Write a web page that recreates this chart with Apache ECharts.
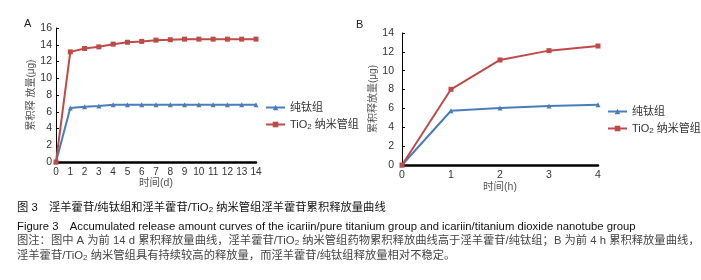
<!DOCTYPE html>
<html>
<head>
<meta charset="utf-8">
<script src="https://cdn.jsdelivr.net/npm/echarts@6/dist/echarts.min.js"></script>
<style>
  html, body { margin: 0; padding: 0; background: #fff; }
  #chart { width: 701px; height: 280px; }
</style>
</head>
<body>
<div id="chart"></div>
<script>
// panel A: 14 days
const daysA = ["0", "1", "2", "3", "4", "5", "6", "7", "8", "9", "10", "11", "12", "13", "14"];
const pureTiA = [0, 6.45, 6.6, 6.68, 6.84, 6.85, 6.85, 6.85, 6.85, 6.85, 6.85, 6.85, 6.85, 6.85, 6.85];
const tubeA = [0, 13.15, 13.55, 13.75, 14.07, 14.3, 14.4, 14.55, 14.6, 14.67, 14.67, 14.67, 14.67, 14.67, 14.67];

// panel B: 4 hours
const hoursB = ["0", "1", "2", "3", "4"];
const pureTiB = [0, 5.75, 6.05, 6.27, 6.38];
const tubeB = [0, 8.03, 11.14, 12.13, 12.62];

const nameTi = "纯钛组";
const nameTube = "TiO2纳米管组";

const BLUE = "#4a7ebb";
const RED = "#be4b48";
const FONT = "Liberation Sans, Arial, Noto Sans CJK SC, sans-serif";

const myChart = echarts.init(document.getElementById("chart"));

const xAxisBase = (gridIndex, data, name, gap, size) => ({
  type: "category",
  gridIndex,
  data,
  boundaryGap: false,
  name,
  nameLocation: "middle",
  nameGap: gap,
  nameTextStyle: { fontSize: 10.5, color: "#555", fontFamily: FONT },
  axisLine: { lineStyle: { color: "#000", width: 2.5 } },
  axisTick: { show: false },
  axisLabel: { fontSize: size, color: "#333", margin: 5, fontFamily: FONT, interval: 0 },
  splitLine: { show: false }
});

const yAxisBase = (gridIndex, max, name, gap, margin) => ({
  type: "value",
  gridIndex,
  min: 0,
  max,
  interval: 2,
  name,
  nameLocation: "middle",
  nameGap: gap,
  nameTextStyle: { fontSize: 10, color: "#555", fontFamily: FONT },
  axisLine: { show: true, lineStyle: { color: "#000", width: 1 } },
  axisTick: { show: true, inside: true, length: 3, lineStyle: { color: "#000" } },
  axisLabel: { fontSize: 10.5, color: "#333", margin, fontFamily: FONT },
  splitLine: { show: false }
});

const lineSeries = (name, data, idx, color, symbol) => ({
  name,
  type: "line",
  xAxisIndex: idx,
  yAxisIndex: idx,
  data,
  symbol,
  symbolSize: 5,
  lineStyle: { color, width: 2 },
  itemStyle: { color },
  animation: false
});

const legendRich = {
  a: { fontSize: 11, color: "#333", fontFamily: FONT },
  s: { fontSize: 8, color: "#333", fontFamily: FONT, padding: [5, 0, 0, 0] }
};
const legendFmt = (n) => (n === nameTube ? "{a|TiO}{s|2}{a| 纳米管组}" : "{a|" + n + "}");

const capRich = {
  a: { fontSize: 11.3, fontFamily: FONT },
  s: { fontSize: 8, fontFamily: FONT, padding: [5, 0, 0, 0] }
};

const option = {
  animation: false,
  grid: [
    { left: 56, top: 28, width: 200, height: 134 },
    { left: 402, top: 33, width: 196, height: 132 }
  ],
  xAxis: [xAxisBase(0, daysA, "时间(d)", 16, 10), xAxisBase(1, hoursB, "时间(h)", 17, 10.5)],
  yAxis: [yAxisBase(0, 16, "累积释 放量(μg)", 14, 4), yAxisBase(1, 14, "累积释放量(μg)", 18, 8)],
  legend: [
    {
      orient: "vertical", left: 265, top: 102, padding: 0, itemWidth: 19, itemHeight: 7, itemGap: 6,
      data: [nameTi, nameTube], formatter: legendFmt, textStyle: { rich: legendRich }
    },
    {
      orient: "vertical", left: 607, top: 106, padding: 0, itemWidth: 19, itemHeight: 7, itemGap: 6,
      data: [nameTi, nameTube], formatter: legendFmt, textStyle: { rich: legendRich }
    }
  ],
  series: [
    lineSeries(nameTi, pureTiA, 0, BLUE, "triangle"),
    lineSeries(nameTube, tubeA, 0, RED, "rect"),
    lineSeries(nameTi, pureTiB, 1, BLUE, "triangle"),
    lineSeries(nameTube, tubeB, 1, RED, "rect")
  ],
  graphic: [
    { type: "text", left: 24, top: 18, style: { text: "A", fontSize: 11, fill: "#222", fontFamily: FONT } },
    { type: "text", left: 356, top: 19, style: { text: "B", fontSize: 11, fill: "#222", fontFamily: FONT } },
    {
      type: "text", left: 17, top: 202,
      style: {
        text: "{a|图 3　淫羊藿苷/纯钛组和淫羊藿苷/TiO}{s|2}{a| 纳米管组淫羊藿苷累积释放量曲线}",
        fill: "#111", rich: capRich
      }
    },
    {
      type: "text", left: 17, top: 221,
      style: {
        text: "Figure 3　Accumulated release amount curves of the icariin/pure titanium group and icariin/titanium dioxide nanotube group",
        fill: "#111", fontSize: 11.3, fontFamily: FONT
      }
    },
    {
      type: "text", left: 17, top: 235,
      style: {
        text: "{a|图注：图中 A 为前 14 d 累积释放量曲线，淫羊藿苷/TiO}{s|2}{a| 纳米管组药物累积释放曲线高于淫羊藿苷/纯钛组；B 为前 4 h 累积释放量曲线，}",
        fill: "#444", rich: capRich
      }
    },
    {
      type: "text", left: 17, top: 250,
      style: {
        text: "{a|淫羊藿苷/TiO}{s|2}{a| 纳米管组具有持续较高的释放量，而淫羊藿苷/纯钛组释放量相对不稳定。}",
        fill: "#444", rich: capRich
      }
    }
  ]
};

myChart.setOption(option);
</script>
</body>
</html>
